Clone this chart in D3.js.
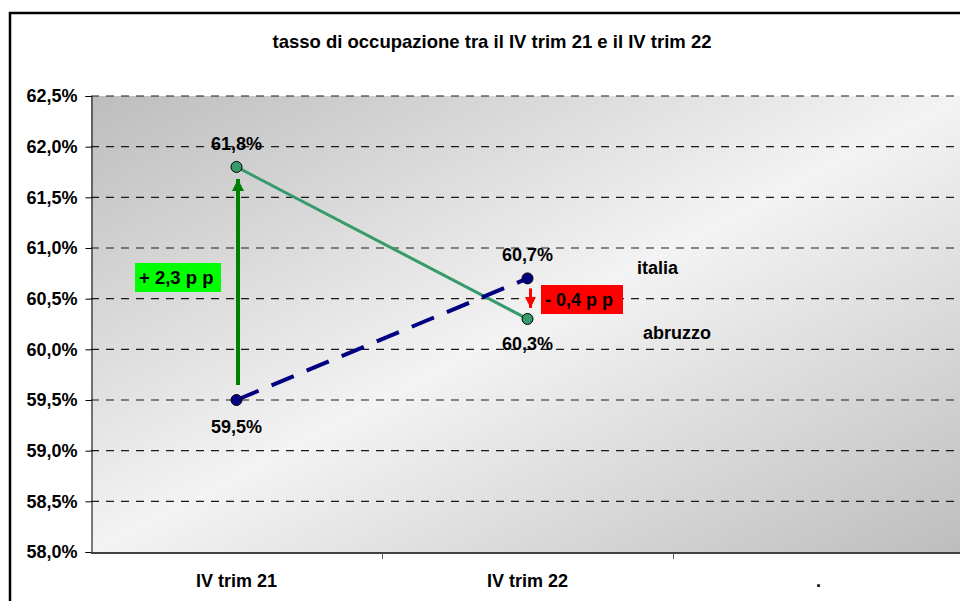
<!DOCTYPE html>
<html>
<head>
<meta charset="utf-8">
<script src="https://cdn.jsdelivr.net/npm/d3@7/dist/d3.min.js"></script>
<style>
  html, body { margin: 0; padding: 0; background: #fff; }
  svg { display: block; }
  text { font-family: "Liberation Sans", Arial, sans-serif; font-weight: bold; fill: #000; }
</style>
</head>
<body>
<svg id="chart" width="960" height="601"></svg>
<script>
// Employment rate, Q4 2021 vs Q4 2022
const categories = ["IV trim 21", "IV trim 22", "."];
const abruzzo = [61.8, 60.3];
const italia = [59.5, 60.7];
const yTicks = [58.0, 58.5, 59.0, 59.5, 60.0, 60.5, 61.0, 61.5, 62.0, 62.5];
const gapLabels = ["+ 2,3 p p", "- 0,4 p p"];
const seriesNames = ["italia", "abruzzo"];
const title = "tasso di occupazione tra il IV trim 21 e il IV trim 22";

const it = d3.formatLocale({ decimal: ",", thousands: ".", grouping: [3], currency: ["", "€"] });
const pct1 = v => it.format(".1f")(v) + "%";

const svg = d3.select("#chart");
const plot = { left: 91, top: 96, bottom: 552, width: 873 };

const x = d3.scaleBand().domain(categories).range([plot.left, plot.left + plot.width]);
const y = d3.scaleLinear().domain([58, 62.5]).range([plot.bottom, plot.top]);
const cx = c => x(c) + x.bandwidth() / 2;

// plot background: diagonal grey-white-grey fill
const defs = svg.append("defs");
const grad = defs.append("linearGradient").attr("id", "bg")
  .attr("x1", 0).attr("y1", 0).attr("x2", 1).attr("y2", 1);
grad.append("stop").attr("offset", 0).attr("stop-color", "#bdbdbd");
grad.append("stop").attr("offset", 0.5).attr("stop-color", "#f3f3f3");
grad.append("stop").attr("offset", 1).attr("stop-color", "#bdbdbd");

defs.append("marker").attr("id", "headGreen")
  .attr("viewBox", "0 0 10 10").attr("refX", 10).attr("refY", 5)
  .attr("markerUnits", "userSpaceOnUse").attr("markerWidth", 13).attr("markerHeight", 12)
  .attr("orient", "auto")
  .append("path").attr("d", "M0,0 L10,5 L0,10 Z").attr("fill", "#008000");
defs.append("marker").attr("id", "headRed")
  .attr("viewBox", "0 0 10 10").attr("refX", 10).attr("refY", 5)
  .attr("markerUnits", "userSpaceOnUse").attr("markerWidth", 11).attr("markerHeight", 12)
  .attr("orient", "auto")
  .append("path").attr("d", "M0,0 L10,5 L0,10 Z").attr("fill", "#ff0000");

svg.append("rect")
  .attr("x", plot.left).attr("y", plot.top)
  .attr("width", plot.width).attr("height", plot.bottom - plot.top)
  .attr("fill", "url(#bg)");

// dashed horizontal gridlines
svg.append("g").selectAll("line").data(yTicks.filter(t => t > 58)).join("line")
  .attr("x1", plot.left).attr("x2", plot.left + plot.width)
  .attr("y1", d => y(d)).attr("y2", d => y(d))
  .attr("stroke", "#1a1a1a").attr("stroke-width", 1.2)
  .attr("stroke-dasharray", "8,7");

// y axis
const yAxis = d3.axisLeft(y).tickValues(yTicks).tickSize(6).tickPadding(8).tickFormat(pct1);
const gy = svg.append("g").attr("transform", `translate(${plot.left + 0.5},0)`).call(yAxis);
gy.select(".domain").attr("stroke", "#000").attr("stroke-width", 1);
gy.selectAll(".tick line").attr("stroke", "#000");
gy.selectAll(".tick text").style("font-size", "18px").attr("fill", "#000");

// x axis: ticks sit on the category boundaries
const gx = svg.append("g").attr("transform", `translate(0,${plot.bottom + 1})`);
gx.append("line").attr("x1", plot.left).attr("x2", plot.left + plot.width)
  .attr("stroke", "#404040").attr("stroke-width", 2);
gx.selectAll("line.tk").data(categories.slice(1)).join("line").attr("class", "tk")
  .attr("x1", d => Math.round(x(d)) + 0.5).attr("x2", d => Math.round(x(d)) + 0.5)
  .attr("y1", 0).attr("y2", 6).attr("stroke", "#555").attr("stroke-width", 1);
gx.selectAll("text").data(categories).join("text")
  .attr("x", d => cx(d)).attr("y", 587 - plot.bottom - 1)
  .attr("text-anchor", "middle").style("font-size", "18px")
  .text(d => d);

// series lines
const pts = vals => vals.map((v, i) => [cx(categories[i]), y(v)]);
const line = d3.line();
svg.append("path").attr("d", line(pts(abruzzo)))
  .attr("fill", "none").attr("stroke", "#379a6a").attr("stroke-width", 3);
svg.append("path").attr("d", line(pts(italia)))
  .attr("fill", "none").attr("stroke", "#000080").attr("stroke-width", 4)
  .attr("stroke-dasharray", "24,14");

// gap arrows, drawn between the two series at each quarter
const a0 = cx(categories[0]) + 1.5;
svg.append("line")
  .attr("x1", a0).attr("x2", a0)
  .attr("y1", y(italia[0]) - 15).attr("y2", y(abruzzo[0]) + 12)
  .attr("stroke", "#008000").attr("stroke-width", 4)
  .attr("marker-end", "url(#headGreen)");
const a1 = cx(categories[1]) + 3;
svg.append("line")
  .attr("x1", a1).attr("x2", a1)
  .attr("y1", y(italia[1]) + 10).attr("y2", y(abruzzo[1]) - 11)
  .attr("stroke", "#ff0000").attr("stroke-width", 3)
  .attr("marker-end", "url(#headRed)");

// markers
const drawPoints = (vals, fill) => svg.append("g").selectAll("circle").data(pts(vals)).join("circle")
  .attr("cx", d => d[0]).attr("cy", d => d[1]).attr("r", 5.5)
  .attr("fill", fill).attr("stroke", "#000").attr("stroke-width", 1);
drawPoints(abruzzo, "#379a6a");
drawPoints(italia, "#000080");

// value labels
const labelOffsets = { abruzzo: [-17, 31], italia: [33, -17] };
const valueLabels = (vals, offs) => svg.append("g").selectAll("text").data(vals).join("text")
  .attr("x", (d, i) => cx(categories[i]))
  .attr("y", (d, i) => y(d) + offs[i])
  .attr("text-anchor", "middle").style("font-size", "18px")
  .text(d => pct1(d));
valueLabels(abruzzo, labelOffsets.abruzzo);
valueLabels(italia, labelOffsets.italia);

// gap boxes
const box = (bx, by, w, h, fill, label, fs) => {
  svg.append("rect").attr("x", bx).attr("y", by).attr("width", w).attr("height", h).attr("fill", fill);
  svg.append("text").attr("x", bx + 4).attr("y", by + h / 2 + 6)
    .style("font-size", fs).text(label);
};
box(135, 263, 86, 29, "#00ff00", gapLabels[0], "18.5px");
box(541, 285, 82, 29, "#ff0000", gapLabels[1], "18px");

// series names beside the latest values
svg.append("text").attr("x", 637).attr("y", 274).style("font-size", "18px").text(seriesNames[0]);
svg.append("text").attr("x", 643).attr("y", 339).style("font-size", "18px").text(seriesNames[1]);

// title
svg.append("text").attr("x", 492).attr("y", 48).attr("text-anchor", "middle")
  .style("font-size", "18.5px").text(title);

// chart frame
svg.append("rect").attr("x", 10).attr("y", 13).attr("width", 980).attr("height", 620)
  .attr("fill", "none").attr("stroke", "#000").attr("stroke-width", 2.5);
</script>
</body>
</html>
